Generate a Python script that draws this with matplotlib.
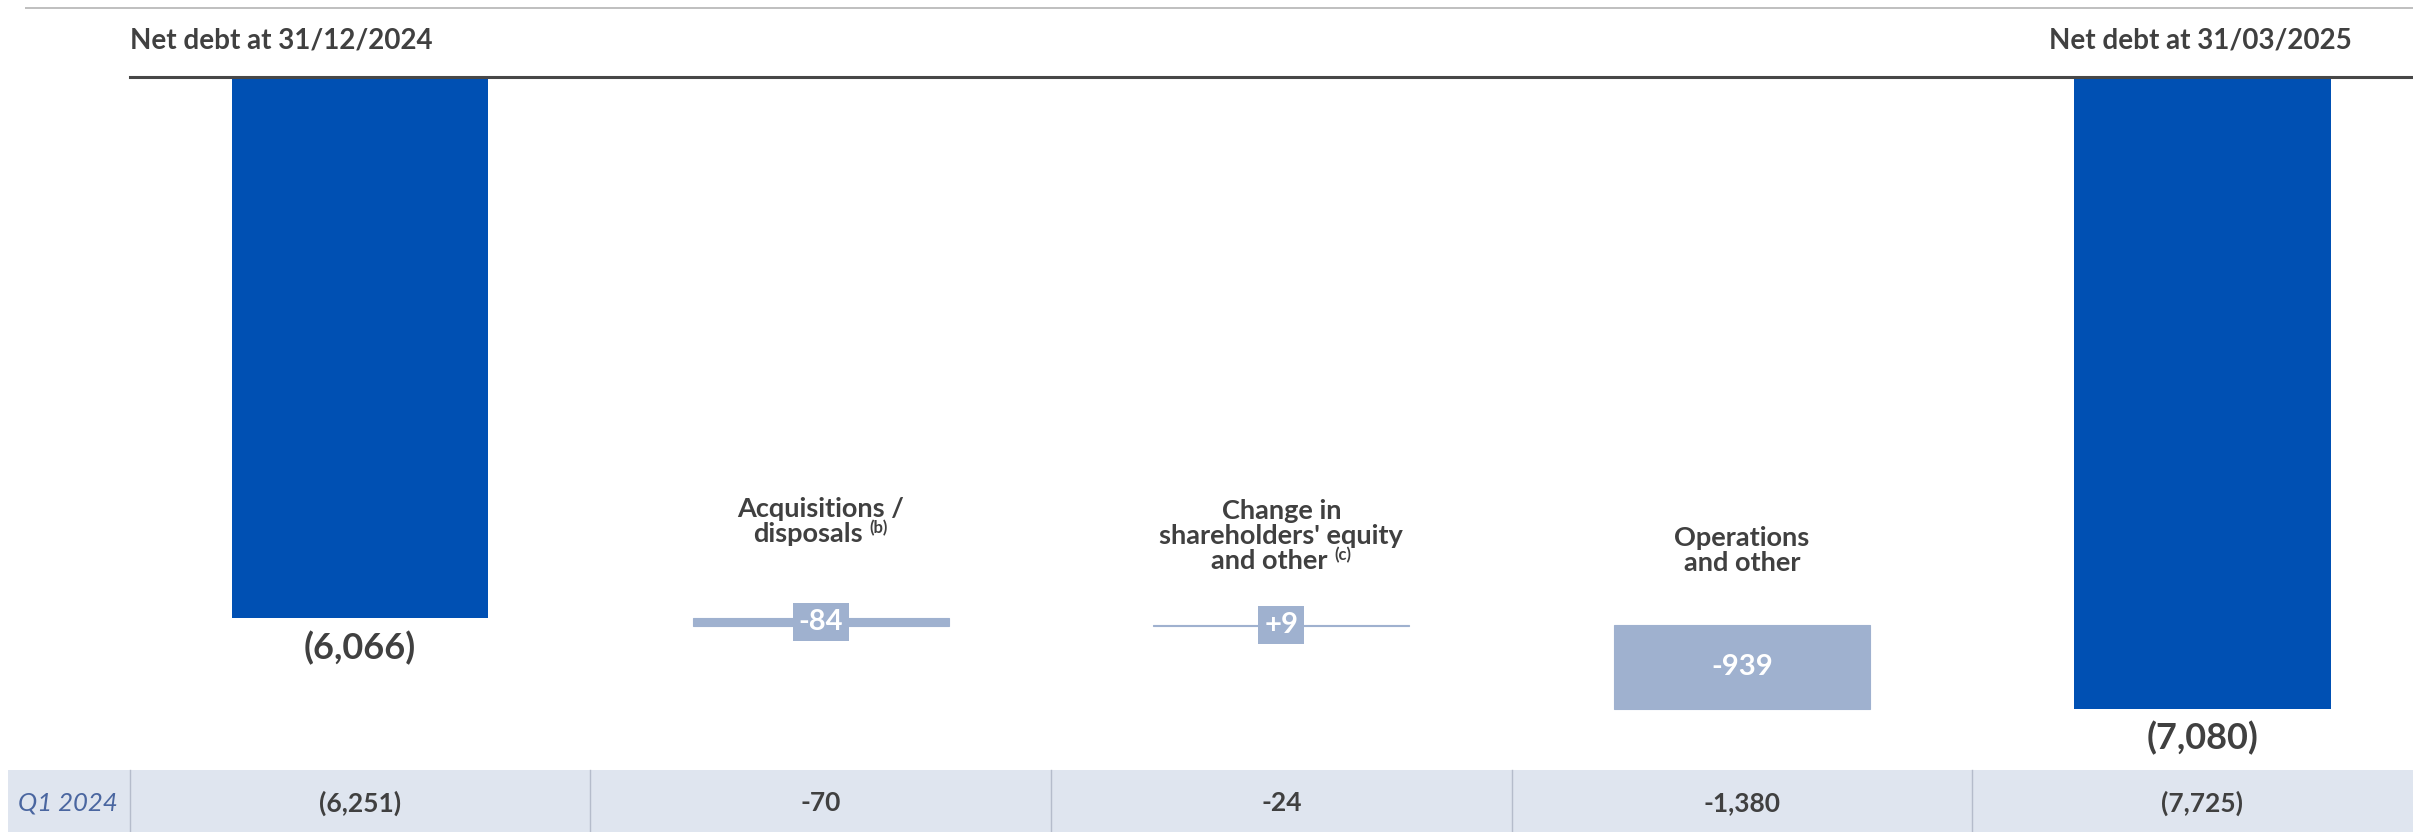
import matplotlib
matplotlib.use("Agg")
import matplotlib.pyplot as plt
from matplotlib.patches import Rectangle

# ---- data -------------------------------------------------------------
categories = [
    "Net debt at 31/12/2024",
    "Acquisitions /\ndisposals",
    "Change in\nshareholders' equity\nand other",
    "Operations\nand other",
    "Net debt at 31/03/2025",
]
footnotes = ["", "(b)", "(c)", "", ""]
kinds = ["total", "delta", "delta", "delta", "total"]
values = [-6066, -84, 9, -939, -7080]

prior_period = "Q1 2024"
prior_labels = ["(6,251)", "-70", "-24", "-1,380", "(7,725)"]

# ---- style ------------------------------------------------------------
FONT = "Lato"
DARK_BLUE = "#0050b3"
LIGHT_BLUE = "#9fb1cf"
TEXT = "#404040"
TABLE_BG = "#dfe5ef"
TABLE_SEP = "#b5bccb"

plt.rcParams["font.family"] = [FONT, "DejaVu Sans"]

W, H, DPI = 2413, 832, 100
fig = plt.figure(figsize=(W / DPI, H / DPI), dpi=DPI)
ax = fig.add_axes([0, 0, 1, 1])
ax.axis("off")

# value axis: 0 sits on the header rule, bars hang downward
ax.set_xlim(-0.7816, 4.457)
ax.set_ylim(-8464, 863)

xt = ax.get_xaxis_transform()  # x in data, y in axes fraction
renderer = fig.canvas.get_renderer()

# header rules
ax.plot([-0.727, 4.457], [0.990, 0.990], transform=xt, color="#b4b4b4",
        lw=1.2, solid_capstyle="butt", clip_on=False)
ax.axhline(0, xmin=(-0.5 + 0.7816) / (4.457 + 0.7816), xmax=1,
           color="#474747", lw=2.2)

# headers for the two totals
ax.text(-0.5, 0.9423, categories[0], transform=xt, ha="left", va="baseline",
        fontsize=20, fontweight="bold", color=TEXT)
ax.text(4.325, 0.9423, categories[4], transform=xt, ha="right",
        va="baseline", fontsize=20, fontweight="bold", color=TEXT)

BAR_W = 0.556
label_offsets = {1: 55, 2: 40, 3: 39}  # points above bar top, last baseline
LINE_PT = 18
CAT_SIZE = 19.5
SUP_SIZE = 12

running = 0
for i, (kind, v) in enumerate(zip(kinds, values)):
    if kind == "total":
        start, end = 0, v
        running = v
        ax.bar(i, end - start, bottom=start, width=BAR_W, color=DARK_BLUE,
               linewidth=0)
        ax.annotate(f"({abs(v):,})", xy=(i, end), xytext=(0, -9),
                    textcoords="offset points", ha="center", va="top",
                    fontsize=26, fontweight="bold", color=TEXT)
    else:
        start = running
        end = running + v
        running = end
        ax.bar(i, end - start, bottom=start, width=BAR_W, color=LIGHT_BLUE,
               edgecolor=LIGHT_BLUE, linewidth=0.8)
        mid = (start + end) / 2
        ax.annotate(f"{v:+,}", xy=(i, mid), ha="center", va="center",
                    fontsize=21, fontweight="bold", color="white",
                    bbox=dict(boxstyle="square,pad=0.2", fc=LIGHT_BLUE,
                              ec="none"))

        # category caption above the bar, last line may carry a footnote mark
        top = max(start, end)
        lines = categories[i].split("\n")
        n = len(lines)
        base = label_offsets[i]
        for j, line in enumerate(lines):
            dy = base + (n - 1 - j) * LINE_PT
            is_last = j == n - 1
            shift = 0
            sup = None
            if is_last and footnotes[i]:
                sup = ax.text(0, 0, footnotes[i], fontsize=SUP_SIZE,
                              fontweight="bold", color=TEXT)
                sw = sup.get_window_extent(renderer).width * 72 / DPI
                shift = -(sw + 5) / 2
            t = ax.annotate(line, xy=(i, top), xytext=(shift, dy),
                            textcoords="offset points", ha="center",
                            va="baseline", fontsize=CAT_SIZE,
                            fontweight="bold", color=TEXT)
            if sup is not None:
                sup.remove()
                ax.annotate(footnotes[i], xy=(1, 1), xycoords=t,
                            xytext=(5, 1.5), textcoords="offset points",
                            ha="left", va="top", fontsize=SUP_SIZE,
                            fontweight="bold", color=TEXT)

# comparison row for the prior period
TABLE_TOP = 1 - 770 / H
TABLE_MID = 1 - 803 / H
ax.add_patch(Rectangle((-0.764, 0), 5.3, TABLE_TOP, transform=xt,
                       facecolor=TABLE_BG, edgecolor="none", clip_on=False))
for k in range(len(categories)):
    ax.plot([k - 0.5, k - 0.5], [0, TABLE_TOP], transform=xt,
            color=TABLE_SEP, lw=1.0)
    ax.text(k, TABLE_MID, prior_labels[k], transform=xt, ha="center",
            va="center", fontsize=19, fontweight="bold", color=TEXT)
ax.text(-0.742, TABLE_MID, prior_period, transform=xt, ha="left",
        va="center", fontsize=18.5, fontstyle="italic", fontweight="normal",
        color="#4a66a0")

fig.savefig("out.png", dpi=DPI)
